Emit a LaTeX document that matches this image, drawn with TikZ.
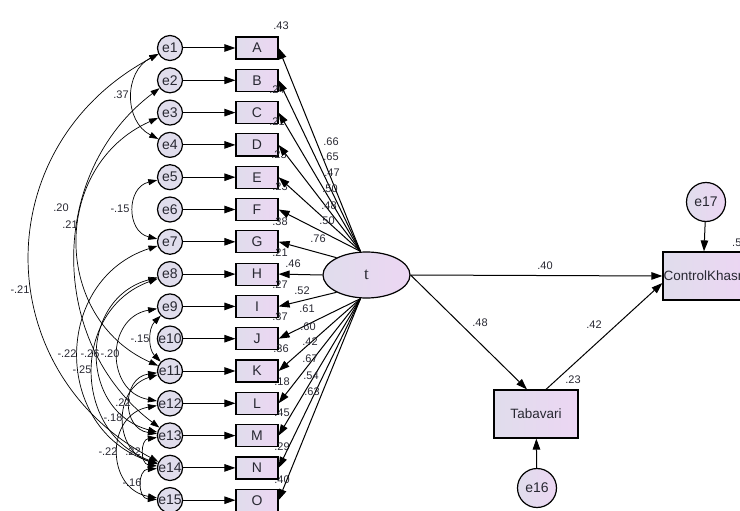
\documentclass[tikz,border=0pt]{standalone}
\usepackage{fontspec}
\setmainfont{Liberation Sans}
\newfontfamily\latfont{Liberation Serif}
\usetikzlibrary{shapes.geometric,arrows.meta}
\definecolor{fillL}{RGB}{224,221,236}
\definecolor{fillR}{RGB}{236,214,243}
\definecolor{inkgray}{RGB}{40,40,50}
\tikzset{
  errc/.style={circle,draw,line width=1.2pt,minimum size=25pt,inner sep=0pt,fill=fillL,text=inkgray,font=\fontsize{14}{14}\selectfont},
  bigerr/.style={circle,draw,line width=1.2pt,minimum size=39pt,inner sep=0pt,left color=fillL,right color=fillR,text=inkgray,font=\fontsize{14}{14}\selectfont},
  obsbox/.style={rectangle,draw,line width=1.2pt,minimum width=42pt,minimum height=22pt,inner sep=0pt,left color=fillL,right color=fillR,text=inkgray,font=\fontsize{14}{14}\selectfont},
  bigbox/.style={rectangle,draw,line width=1.2pt,minimum width=84pt,minimum height=48pt,inner sep=0pt,left color=fillL,right color=fillR,text=inkgray,font=\fontsize{13.5}{13.5}\selectfont},
  latent/.style={ellipse,draw,line width=1.2pt,minimum width=87pt,minimum height=46pt,inner sep=0pt,left color=fillL,right color=fillR,text=inkgray,font=\latfont\fontsize{17}{17}\selectfont},
  lbl/.style={inner sep=0pt,text=inkgray,font=\fontsize{11}{11}\selectfont},
  arr/.style={-{Triangle[length=11pt,width=7.5pt]},line width=1pt},
  covarc/.style={{Triangle[length=9pt,width=6pt]}-{Triangle[length=9pt,width=6pt]},line width=0.7pt}
}
\begin{document}
\begin{tikzpicture}[x=1pt,y=1pt]
\useasboundingbox (0,0) rectangle (740,-511);
\clip (0,0) rectangle (740,-511);
\node[errc] (e1) at (170,-48) {e1};
\node[errc] (e2) at (170,-80.3) {e2};
\node[errc] (e3) at (170,-112.6) {e3};
\node[errc] (e4) at (170,-144.9) {e4};
\node[errc] (e5) at (170,-177.2) {e5};
\node[errc] (e6) at (170,-209.5) {e6};
\node[errc] (e7) at (170,-241.8) {e7};
\node[errc] (e8) at (170,-274.1) {e8};
\node[errc] (e9) at (170,-306.4) {e9};
\node[errc] (e10) at (170,-338.7) {e10};
\node[errc] (e11) at (170,-371) {e11};
\node[errc] (e12) at (170,-403.3) {e12};
\node[errc] (e13) at (170,-435.6) {e13};
\node[errc] (e14) at (170,-467.9) {e14};
\node[errc] (e15) at (170,-500.2) {e15};
\node[obsbox] (A) at (257,-48) {A};
\node[obsbox] (B) at (257,-80.3) {B};
\node[obsbox] (C) at (257,-112.6) {C};
\node[obsbox] (D) at (257,-144.9) {D};
\node[obsbox] (E) at (257,-177.2) {E};
\node[obsbox] (F) at (257,-209.5) {F};
\node[obsbox] (G) at (257,-241.8) {G};
\node[obsbox] (H) at (257,-274.1) {H};
\node[obsbox] (I) at (257,-306.4) {I};
\node[obsbox] (J) at (257,-338.7) {J};
\node[obsbox] (K) at (257,-371) {K};
\node[obsbox] (L) at (257,-403.3) {L};
\node[obsbox] (M) at (257,-435.6) {M};
\node[obsbox] (N) at (257,-467.9) {N};
\node[obsbox] (O) at (257,-500.2) {O};
\node[latent] (t) at (366.5,-275) {t};
\node[bigbox,minimum width=80pt] (ctrl) at (703,-276) {ControlKhasr};
\node[bigbox] (tab) at (536,-414) {Tabavari};
\node[bigerr] (e17) at (706,-202) {e17};
\node[bigerr] (e16) at (537,-488) {e16};
\node[lbl] (rA) at (281,-26) {.43};
\node[lbl] (rC) at (277,-90) {.24};
\node[lbl] (rD) at (277,-122) {.21};
\node[lbl] (rE) at (279,-155) {.23};
\node[lbl] (rF) at (280,-187) {.23};
\node[lbl] (rG) at (280,-222) {.38};
\node[lbl] (rH) at (280,-253) {.21};
\node[lbl] (rI) at (280,-285) {.27};
\node[lbl] (rJ) at (280,-317) {.37};
\node[lbl] (rK) at (281,-349) {.36};
\node[lbl] (rL) at (282,-382) {.18};
\node[lbl] (rM) at (282,-413) {.45};
\node[lbl] (rN) at (282,-447) {.29};
\node[lbl] (rO) at (282,-480) {.40};
\node[lbl] (rtab) at (573,-380) {.23};
\node[lbl,anchor=west] (rctrl) at (732,-243) {.5};
\draw[arr] (e1) -- (A);
\draw[arr] (e2) -- (B);
\draw[arr] (e3) -- (C);
\draw[arr] (e4) -- (D);
\draw[arr] (e5) -- (E);
\draw[arr] (e6) -- (F);
\draw[arr] (e7) -- (G);
\draw[arr] (e8) -- (H);
\draw[arr] (e9) -- (I);
\draw[arr] (e10) -- (J);
\draw[arr] (e11) -- (K);
\draw[arr] (e12) -- (L);
\draw[arr] (e13) -- (M);
\draw[arr] (e14) -- (N);
\draw[arr] (e15) -- (O);
\draw[arr] ([xshift=-6pt]t.north) -- (A.east);
\draw[arr] ([xshift=-6pt]t.north) -- (B.east);
\draw[arr] ([xshift=-6pt]t.north) -- (C.east);
\draw[arr] ([xshift=-6pt]t.north) -- (D.east);
\draw[arr] ([xshift=-6pt]t.north) -- (E.east);
\draw[arr] ([xshift=-6pt]t.north) -- (F.east);
\draw[arr] (t.150) -- (G.east);
\draw[arr] (t.west) -- (H.east);
\draw[arr] (t.210) -- (I.east);
\draw[arr] ([xshift=-6pt]t.south) -- (J.east);
\draw[arr] ([xshift=-6pt]t.south) -- (K.east);
\draw[arr] ([xshift=-6pt]t.south) -- (L.east);
\draw[arr] ([xshift=-6pt]t.south) -- (M.east);
\draw[arr] ([xshift=-6pt]t.south) -- (N.east);
\draw[arr] ([xshift=-6pt]t.south) -- (O.east);
\draw[arr] (t.east) -- (ctrl.west);
\draw[arr] (t.east) -- ([xshift=-9pt]tab.north);
\draw[arr] ([xshift=10pt]tab.north) -- ([yshift=-7pt]ctrl.west);
\draw[arr] (e17) -- (ctrl);
\draw[arr] (e16) -- (tab);
\node[lbl] (lA) at (331,-142) {.66};
\node[lbl] (lB) at (331,-157) {.65};
\node[lbl] (lC) at (332,-173) {.47};
\node[lbl] (lD) at (330,-189) {.50};
\node[lbl] (lE) at (329,-206) {.48};
\node[lbl] (lF) at (327,-221) {.50};
\node[lbl] (lG) at (318,-239) {.76};
\node[lbl] (lH) at (293,-264) {.46};
\node[lbl] (lI) at (302,-291) {.52};
\node[lbl] (lJ) at (307,-309) {.61};
\node[lbl] (lK) at (308,-327) {.60};
\node[lbl] (lL) at (310,-342) {.42};
\node[lbl] (lM) at (310,-359) {.67};
\node[lbl] (lN) at (311,-376) {.54};
\node[lbl] (lO) at (312,-392) {.63};
\node[lbl] (lctrl) at (545,-266) {.40};
\node[lbl] (ltab) at (480,-323) {.48};
\node[lbl] (ltc) at (594,-325) {.42};
\draw[covarc] (e1) to[bend right=63,looseness=1.17] (e4);
\draw[covarc] (e5) to[bend right=77,looseness=1.39] (e7);
\draw[covarc] (e1) to[bend right=62,looseness=1.22] (e14);
\draw[covarc] (e2) to[bend right=53,looseness=1.06] (e13);
\draw[covarc] (e3) to[bend right=66,looseness=1.21] (e11);
\draw[covarc] (e7) to[bend right=72,looseness=1.30] (e14);
\draw[covarc] (e8) to[bend right=75,looseness=1.35] (e13);
\draw[covarc] (e9) to[bend right=80,looseness=1.45] (e12);
\draw[covarc] (e8) to[bend right=70,looseness=1.27] (e14);
\draw[covarc] (e9) to[bend right=45,looseness=1.00] (e11);
\draw[covarc] (e11) to[bend right=82,looseness=1.50] (e13);
\draw[covarc] (e11) to[bend right=73,looseness=1.33] (e14);
\draw[covarc] (e12) to[bend right=80,looseness=1.45] (e15);
\draw[covarc] (e13) to[bend right=82,looseness=1.50] (e14);
\draw[covarc] (e14) to[bend right=87,looseness=1.62] (e15);
\node[lbl] (c14) at (121,-95) {.37};
\node[lbl] (c57) at (120,-209) {-.15};
\node[lbl] (c114) at (20,-290) {-.21};
\node[lbl] (c213) at (61,-208) {.20};
\node[lbl] (c311) at (70,-225) {.21};
\node[lbl] (c714) at (67,-354) {-.22};
\node[lbl] (c813) at (90,-354) {-.26};
\node[lbl] (c912) at (110,-354) {-.20};
\node[lbl] (c814) at (82,-370) {-.25};
\node[lbl] (c911) at (140,-339) {-.15};
\node[lbl] (c1113) at (123,-403) {.22};
\node[lbl] (c1114) at (113,-418) {-.18};
\node[lbl] (c1215) at (108,-452) {-.22};
\node[lbl] (c1314) at (133,-452) {.22};
\node[lbl] (c1415) at (132,-483) {-.16};
\end{tikzpicture}
\end{document}
